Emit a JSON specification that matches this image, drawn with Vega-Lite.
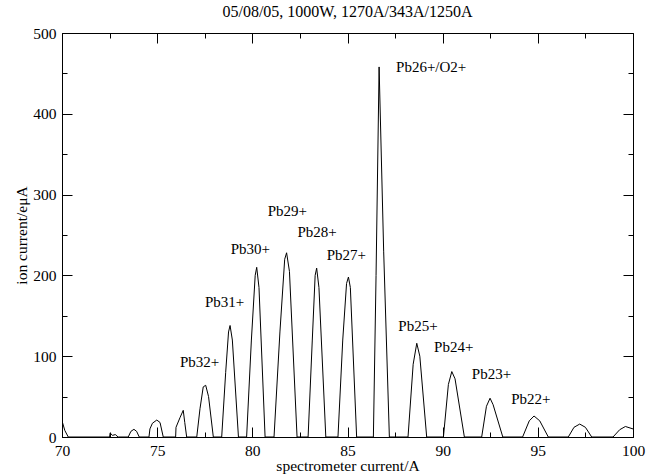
{
  "$schema": "https://vega.github.io/schema/vega-lite/v6.json",
  "width": 571,
  "height": 404,
  "autosize": "none",
  "padding": {"left": 62, "top": 33, "right": 22, "bottom": 39},
  "background": "white",
  "title": {"text": "05/08/05, 1000W, 1270A/343A/1250A", "font": "Liberation Serif", "fontSize": 16, "fontWeight": "normal", "color": "black", "offset": 6, "anchor": "middle"},
  "config": {
    "view": {"stroke": "black", "strokeWidth": 1},
    "axis": {"grid": false, "domainColor": "black", "tickColor": "black", "labelColor": "black", "titleColor": "black", "labelFont": "Liberation Serif", "titleFont": "Liberation Serif", "labelFontSize": 15.5, "titleFontSize": 15.5, "titleFontWeight": "normal"}
  },
  "datasets": {
    "spectrum": [
      {"x": 70, "y": 20}, {"x": 70.15, "y": 8}, {"x": 70.33, "y": 0},
      {"x": 72.5, "y": 0}, {"x": 72.53, "y": 5}, {"x": 72.65, "y": 2}, {"x": 72.8, "y": 3}, {"x": 72.95, "y": 0},
      {"x": 73.48, "y": 0}, {"x": 73.62, "y": 7}, {"x": 73.78, "y": 9.5}, {"x": 73.92, "y": 7}, {"x": 74.06, "y": 0},
      {"x": 74.57, "y": 0}, {"x": 74.62, "y": 10}, {"x": 74.75, "y": 17}, {"x": 74.98, "y": 21}, {"x": 75.15, "y": 18}, {"x": 75.32, "y": 0},
      {"x": 75.97, "y": 0}, {"x": 75.99, "y": 12}, {"x": 76.2, "y": 24}, {"x": 76.37, "y": 33}, {"x": 76.45, "y": 18}, {"x": 76.55, "y": 0},
      {"x": 77.08, "y": 0}, {"x": 77.25, "y": 35}, {"x": 77.42, "y": 62}, {"x": 77.55, "y": 64}, {"x": 77.7, "y": 50}, {"x": 77.95, "y": 0},
      {"x": 78.39, "y": 0}, {"x": 78.6, "y": 80}, {"x": 78.75, "y": 130}, {"x": 78.83, "y": 138}, {"x": 78.95, "y": 120}, {"x": 79.27, "y": 0},
      {"x": 79.7, "y": 0}, {"x": 79.95, "y": 120}, {"x": 80.15, "y": 200}, {"x": 80.23, "y": 210}, {"x": 80.35, "y": 185}, {"x": 80.67, "y": 0},
      {"x": 81.14, "y": 0}, {"x": 81.45, "y": 130}, {"x": 81.7, "y": 220}, {"x": 81.8, "y": 228}, {"x": 81.95, "y": 205}, {"x": 82.35, "y": 0},
      {"x": 82.93, "y": 0}, {"x": 83.15, "y": 120}, {"x": 83.3, "y": 200}, {"x": 83.38, "y": 209}, {"x": 83.5, "y": 185}, {"x": 83.86, "y": 0},
      {"x": 84.5, "y": 0}, {"x": 84.75, "y": 120}, {"x": 84.95, "y": 190}, {"x": 85.05, "y": 198}, {"x": 85.15, "y": 185}, {"x": 85.48, "y": 0},
      {"x": 86.36, "y": 0}, {"x": 86.5, "y": 200}, {"x": 86.66, "y": 458}, {"x": 86.9, "y": 230}, {"x": 87.2, "y": 0},
      {"x": 88.18, "y": 0}, {"x": 88.45, "y": 90}, {"x": 88.64, "y": 116}, {"x": 88.8, "y": 100}, {"x": 89.16, "y": 0},
      {"x": 90.04, "y": 0}, {"x": 90.3, "y": 65}, {"x": 90.48, "y": 81}, {"x": 90.65, "y": 72}, {"x": 91.14, "y": 0},
      {"x": 92.05, "y": 0}, {"x": 92.3, "y": 38}, {"x": 92.49, "y": 48}, {"x": 92.65, "y": 40}, {"x": 93.16, "y": 0},
      {"x": 94.2, "y": 0}, {"x": 94.55, "y": 20}, {"x": 94.8, "y": 26}, {"x": 95.1, "y": 20}, {"x": 95.55, "y": 0},
      {"x": 96.6, "y": 0}, {"x": 96.9, "y": 12}, {"x": 97.2, "y": 16}, {"x": 97.5, "y": 12}, {"x": 97.83, "y": 0},
      {"x": 98.95, "y": 0}, {"x": 99.3, "y": 9}, {"x": 99.6, "y": 13}, {"x": 100, "y": 10}
    ],
    "labels": [
      {"label": "Pb32+", "x": 76.2, "y": 93},
      {"label": "Pb31+", "x": 77.51, "y": 167},
      {"label": "Pb30+", "x": 78.86, "y": 233},
      {"label": "Pb29+", "x": 80.81, "y": 280},
      {"label": "Pb28+", "x": 82.37, "y": 254},
      {"label": "Pb27+", "x": 83.91, "y": 225},
      {"label": "Pb26+/O2+", "x": 87.55, "y": 458},
      {"label": "Pb25+", "x": 87.67, "y": 137},
      {"label": "Pb24+", "x": 89.55, "y": 112},
      {"label": "Pb23+", "x": 91.53, "y": 78},
      {"label": "Pb22+", "x": 93.6, "y": 47}
    ]
  },
  "resolve": {"axis": {"x": "independent", "y": "independent"}},
  "layer": [
    {
      "data": {"name": "spectrum"},
      "mark": {"type": "line", "color": "black", "strokeWidth": 1, "clip": true},
      "encoding": {
        "x": {"field": "x", "type": "quantitative", "scale": {"domain": [70, 100], "nice": false, "zero": false},
          "axis": {"orient": "bottom", "title": "spectrometer current/A", "values": [70, 72.5, 75, 77.5, 80, 82.5, 85, 87.5, 90, 92.5, 95, 97.5, 100],
            "labelExpr": "datum.value % 5 === 0 ? format(datum.value, 'd') : ''",
            "tickSize": {"condition": {"test": "datum.value % 5 === 0", "value": -10}, "value": -5},
            "labelPadding": 16, "titlePadding": 0, "labelFlush": false}},
        "y": {"field": "y", "type": "quantitative", "scale": {"domain": [0, 500], "nice": false},
          "axis": {"orient": "left", "title": "ion current/eμA", "values": [0, 50, 100, 150, 200, 250, 300, 350, 400, 450, 500],
            "labelExpr": "datum.value % 100 === 0 ? format(datum.value, 'd') : ''",
            "tickSize": {"condition": {"test": "datum.value % 100 === 0", "value": -10}, "value": -5},
            "labelPadding": 16, "titlePadding": 3}}
      }
    },
    {
      "data": {"name": "labels"},
      "mark": {"type": "text", "font": "Liberation Serif", "fontSize": 15, "align": "left", "baseline": "middle", "color": "black"},
      "encoding": {
        "text": {"field": "label", "type": "nominal"},
        "x": {"field": "x", "type": "quantitative",
          "axis": {"orient": "top", "title": null, "labels": false, "domain": false, "values": [70, 72.5, 75, 77.5, 80, 82.5, 85, 87.5, 90, 92.5, 95, 97.5, 100],
            "tickSize": {"condition": {"test": "datum.value % 5 === 0", "value": -10}, "value": -5}}},
        "y": {"field": "y", "type": "quantitative",
          "axis": {"orient": "right", "title": null, "labels": false, "domain": false, "values": [0, 50, 100, 150, 200, 250, 300, 350, 400, 450, 500],
            "tickSize": {"condition": {"test": "datum.value % 100 === 0", "value": -10}, "value": -5}}}
      }
    }
  ]
}
